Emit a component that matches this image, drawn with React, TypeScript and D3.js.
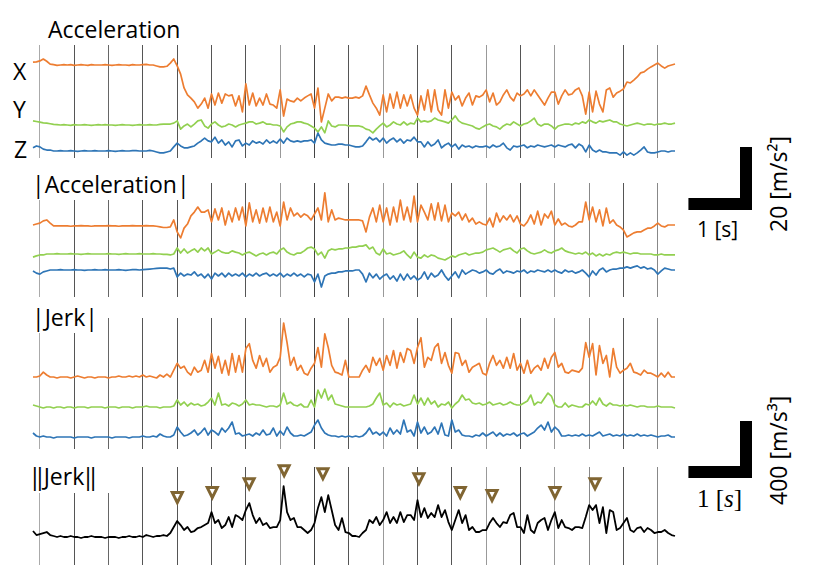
import React, { useRef, useEffect } from 'react';
import * as d3 from 'd3';

// sampling of every trace (s)
const SAMPLE_DT = 0.054;
// vertical guide lines (s)
const GRID_START = 0.1;
const GRID_STEP = 0.54;
const GRID_COUNT = 19;

// Acceleration per axis [m/s^2], relative to each trace's rest level
const accX = [
  0.9, 1.0, 1.3, 1.9, 1.2, 0.3, 0.1, -0.1, 0, 0.1,
  0, 0.1, -0.1, 0, 0.1, 0, -0.1, 0.1, 0, 0,
  0, 0.1, 0, -0.1, 0, 0.1, 0, 0, -0.1, 0.1,
  0, 0, 0.1, 0.2, 0, 0, -0.3, -0.6, -0.6, -0.4,
  0.6, 1.9, -0.3, -2.9, -7.3, -9.5, -10.5, -11.7, -13.7, -12.4,
  -10.5, -13.7, -9.2, -12.7, -8.9, -12.1, -9.2, -9.8, -9.5, -13.0,
  -9.8, -14.9, -6.0, -12.7, -8.9, -13.0, -10.5, -12.7, -9.2, -12.4,
  -12.7, -13.7, -7.9, -16.2, -10.8, -11.4, -11.7, -10.5, -11.4, -10.5,
  -9.8, -9.2, -13.7, -7.3, -18.1, -13.7, -9.2, -11.4, -10.2, -10.2,
  -10.5, -10.2, -10.5, -10.5, -10.2, -10.5, -9.8, -6.7, -9.5, -12.1,
  -13.7, -15.9, -9.5, -14.9, -9.2, -13.7, -8.6, -13.7, -9.5, -13.0,
  -9.5, -13.7, -15.9, -9.8, -14.3, -7.9, -14.9, -7.9, -14.3, -15.9,
  -7.9, -13.7, -8.6, -11.1, -9.8, -13.0, -10.5, -8.9, -12.7, -9.8,
  -10.2, -9.5, -7.9, -11.7, -8.9, -12.7, -11.7, -9.5, -7.9, -10.2,
  -11.4, -8.9, -9.8, -9.2, -7.9, -9.8, -7.9, -9.5, -11.1, -12.7,
  -10.5, -8.6, -8.6, -12.4, -9.8, -7.9, -9.5, -9.2, -7.9, -7.3,
  -9.8, -15.6, -8.6, -14.9, -8.3, -12.4, -14.9, -7.9, -7.3, -10.2,
  -8.9, -8.3, -7.6, -5.4, -5.7, -4.8, -3.8, -2.5, -2.2, -1.3,
  -0.6, 0, 0.6, -0.3, -1.0, -0.3, 0, 0.3,
];
const accY = [
  1.3, 1.1, 0.9, 0.7, 0.6, 0.4, 0.2, 0.1, 0, 0.1,
  0, -0.1, 0.1, 0, 0, 0.1, 0, -0.1, 0, 0.1,
  0, 0.1, 0, 0, -0.1, 0, 0.1, 0, 0, -0.1,
  0, 0.1, 0, 0, 0.1, 0, 0, 0.2, 0.3, 0.3,
  0.3, 0.6, 1.3, -1.3, -0.3, 0.3, -0.6, 0.3, 1.3, 1.6,
  -0.3, -1.0, 0.3, 1.0, 0, -0.6, -0.3, 0.3, 0, -0.6,
  0, 0.3, 0.6, 1.0, 1.0, 0.3, 0.6, 1.0, 0.3, 0.3,
  0, 0, -0.3, -2.2, -0.6, 0.3, 0.6, 1.0, 1.0, 0.6,
  0.3, -0.3, -1.0, -2.2, -0.6, -2.5, 1.3, -0.3, -0.6, 0,
  0, 0, -0.3, -0.3, -0.3, -0.3, -0.6, -1.3, -1.6, -2.5,
  -1.3, -0.3, 0.6, -0.6, 0, 1.0, 0.3, 0, 1.0, 0,
  0.6, 0.3, 2.2, 1.0, 1.3, 1.0, 1.3, 2.2, 1.6, 1.3,
  1.0, 0.6, 1.6, 2.9, 1.3, 0.6, 0.3, 0, -0.3, -1.0,
  -1.3, -0.6, 0, 0.3, -0.3, -0.6, -1.3, -0.3, 0.3, 0,
  1.0, 0.3, -0.3, 0.3, 0.6, 1.3, 2.2, 0.3, -0.3, 0.3,
  0.3, -0.3, -1.3, -0.3, 0, 0.3, 0.3, 0, 0.6, 0.3,
  1.0, 0.6, 1.6, 1.0, 0.6, 1.3, 1.0, 1.3, 1.6, 1.0,
  1.0, 0.3, 0, -0.3, 0, 0.3, 0.6, 0.3, 0, 0.3,
  0.3, 0, 0.3, 0.3, 0.6, 0.3, 0.3, 0.6,
];
const accZ = [
  1.0, 1.6, 1.3, 0.6, 0.3, 0.3, 0, 0, 0.1, 0,
  0, 0.1, 0, -0.1, 0, 0.1, 0, 0, 0.1, 0,
  0, 0, 0.1, 0, -0.1, 0, 0.1, 0, 0, 0.1,
  0.1, 0, 0, 0, 0.2, 0, -0.3, -0.6, -0.6, -0.3,
  0, 1.3, 2.5, 1.6, 1.0, 1.0, 1.3, 1.6, 2.5, 3.2,
  4.1, 3.2, 2.9, 4.4, 2.5, 3.5, 1.9, 2.9, 1.3, 3.2,
  3.5, 1.6, 2.5, 1.9, 3.2, 2.5, 2.9, 2.2, 3.5, 2.5,
  3.2, 2.5, 3.8, 2.5, 4.1, 3.2, 2.9, 3.2, 2.9, 3.2,
  3.2, 3.5, 2.5, 5.7, 3.5, 2.5, 2.2, 1.9, 1.9, 2.2,
  2.2, 1.9, 1.9, 1.6, 1.3, 1.3, 1.6, 2.9, 4.4, 3.5,
  4.1, 2.9, 4.1, 2.5, 3.5, 4.1, 2.9, 3.8, 2.5, 3.5,
  3.2, 4.4, 2.9, 2.9, 1.3, 2.9, 1.6, 2.2, 3.5, 1.0,
  1.9, 2.5, 1.3, 2.2, 0.6, 1.9, 1.3, 1.6, 1.0, 1.6,
  1.3, 1.3, 1.6, 1.0, 1.9, 1.3, 1.6, 2.5, 1.0, 0.3,
  1.6, 1.3, 1.6, 1.9, 1.0, 1.6, 1.3, 1.9, 1.6, 1.3,
  1.6, 1.9, 1.3, 1.9, 1.6, 1.3, 1.9, 2.2, 1.0, 2.2,
  1.6, -0.3, 1.9, 0.3, -0.3, 0.3, -0.3, -0.3, -0.6, -0.6,
  -0.6, -1.3, -0.3, -1.3, -0.6, -1.3, -0.6, 0.3, 1.3, -0.3,
  -0.6, -0.6, -0.3, 0, 0, -0.3, 0, 0,
];

// |Acceleration| per axis [m/s^2]
const absAccX = [
  0, 0.3, 0.6, 1.3, 1.6, 0.6, -0.3, -0.3, -0.3, -0.3,
  -0.3, -0.4, -0.3, -0.3, -0.2, -0.3, -0.3, -0.4, -0.3, -0.3,
  -0.3, -0.3, -0.2, -0.3, -0.3, -0.4, -0.3, -0.3, -0.3, -0.2,
  -0.3, -0.3, -0.3, -0.2, -0.3, -0.3, -0.4, -0.6, -0.8, -0.8,
  -0.6, 1.6, -2.2, -4.1, -1.0, 0.3, 2.9, 4.1, 5.7, 4.1,
  4.1, 4.8, 1.0, 5.1, 1.6, 5.4, 0, 4.4, 1.0, 5.4,
  1.6, 5.7, -0.3, 7.0, 1.0, 4.8, 0.6, 5.4, 1.0, 5.7,
  1.0, 4.1, -0.3, 7.3, 1.6, 5.4, 2.9, 3.8, 2.5, 3.5,
  2.9, 1.6, 3.5, 5.4, 1.6, 10.2, 1.0, 4.8, 1.6, 2.2,
  1.9, 1.6, 1.6, 1.6, 1.6, 1.6, 1.3, -2.2, 2.5, 5.4,
  1.0, 6.3, 1.0, 5.4, 0, 5.7, 1.0, 7.9, 1.6, 5.7,
  1.0, 9.2, 1.0, 6.3, 4.1, 1.6, 6.7, 1.6, 7.0, 1.3,
  6.3, 1.0, 3.8, 2.9, 4.1, 1.6, 3.5, 1.0, 2.2, 0.3,
  1.0, 0.3, 0, 2.2, -0.6, 3.8, 1.0, 2.9, 1.6, 3.2,
  1.0, 2.9, 0.3, -0.3, 1.0, 3.2, 0.3, 4.4, 0, 3.5,
  2.2, 4.4, 0, 1.9, 0, 0.6, -0.3, -0.6, 0, 1.0,
  1.0, 7.3, 1.6, 5.7, 1.0, 4.8, -0.3, 5.4, 0.6, 1.6,
  0, -0.6, -1.6, -3.8, -3.2, -2.5, -2.2, -2.2, -1.6, -1.0,
  -1.0, -0.3, 0.6, -0.3, -0.6, 0, 0, 0,
];
const absAccY = [
  -1.0, -0.6, -0.3, -0.3, 0, 0, 0, 0.1, 0, 0,
  0, 0.1, 0, 0, -0.1, 0, 0.1, 0, 0, 0,
  0, 0, 0.1, 0, 0, -0.1, 0, 0.1, 0, 0,
  0, 0.1, 0, 0, 0, 0.1, 0, 0, -0.1, -0.1,
  -0.3, 0, 1.9, 0.3, 1.6, 0.3, 1.0, 1.6, 0.6, 1.9,
  1.0, 1.9, 0, 0.6, 1.3, 0.6, 0.3, 0.3, 1.0, 0.6,
  0.3, -0.3, 0.3, 0.6, 0, -0.6, 0, 0.3, -0.3, 0.3,
  0.6, 0, 1.3, 1.9, 0.6, 0, -0.3, 0.3, 0.3, 1.0,
  1.9, 2.2, 1.6, -0.3, 0.6, -1.3, 1.0, 1.6, 1.3, 1.6,
  1.6, 1.9, 1.9, 2.2, 2.2, 2.5, 2.5, 2.9, 1.6, 2.2,
  0.3, -0.3, 1.6, 0, 0.3, -0.3, 0, 0.3, 1.0, -0.3,
  -1.3, 0.6, -1.0, -1.3, -0.3, -1.0, -0.3, -0.6, -1.3, -1.6,
  -1.9, -1.3, -0.6, -1.0, -0.3, 0, 0.3, -0.3, 0, 0.3,
  0.3, 0.6, 1.3, 1.6, 1.9, 1.3, 0.6, 1.3, 1.6, 1.9,
  1.0, 0.3, 1.6, 1.9, 1.0, 0.3, 0, 0.3, 0.6, 1.3,
  0.6, 0.3, 1.0, 1.3, 1.9, 1.0, 0.6, 0.3, 0, 0.3,
  0, 0.6, -0.3, 0.3, -0.6, 0, -0.6, 0, -0.3, 0.3,
  0.6, 0.3, 0.6, 0.3, 0, 0.3, 0.3, 0, 0, 0,
  0, -0.3, -0.3, 0, -0.3, -0.3, -0.3, -0.3,
];
const absAccZ = [
  -0.3, -1.0, -1.3, -0.6, -0.3, 0, 0, 0, 0.1, 0,
  0, 0, 0.1, 0, 0, -0.1, 0, 0, 0.1, 0,
  0, 0.1, 0, 0, 0, 0.1, 0, -0.1, 0, 0.1,
  0.1, 0, 0.1, 0.2, 0.3, 0.4, 0.5, 0.6, 0.6, 0.6,
  0.3, 0.6, -2.2, -1.0, -1.9, -1.3, -1.6, -0.6, -1.9, -1.3,
  -2.5, -1.3, -2.9, -1.0, -1.9, -1.0, -2.2, -1.0, -1.9, -1.3,
  -1.9, -1.0, -2.2, -1.3, -1.9, -1.0, -1.9, -1.3, -1.0, -1.9,
  -1.3, -1.9, -1.0, -2.2, -1.3, -1.9, -1.0, -1.9, -1.3, -2.2,
  -1.3, -1.6, -3.8, -1.3, -5.4, -1.9, -1.3, -1.0, -1.0, -0.6,
  -0.6, -0.3, -0.3, -0.3, 0, 0, -1.3, -3.8, -1.0, -2.5,
  -1.3, -2.9, -1.9, -1.3, -2.9, -1.9, -3.5, -1.3, -3.2, -1.3,
  -2.9, -1.9, -3.2, -2.5, -0.6, -2.9, -1.0, -2.2, -1.6, 0,
  -1.9, -3.2, -1.9, -0.6, -2.5, 0, -1.3, -0.6, 0, -0.3,
  -1.0, -0.6, 0, -1.0, -1.3, -0.3, 0.3, -1.0, -0.3, -0.6,
  -1.0, -0.3, -0.6, 0, -1.0, -0.3, -0.6, 0, -0.3, -0.6,
  0, -0.6, 0, -0.6, -1.0, 0, -0.6, -0.3, -1.0, -0.6,
  0, -1.0, -2.2, -0.3, -1.6, 0, 0.6, -0.6, 0, 0.3,
  0.3, 0.6, 0.6, 1.0, 0.6, 1.0, 1.3, 0.6, 1.0, 0.3,
  0.6, 0, -1.3, -0.3, 0.6, 0.3, 0, 0,
];

// |Jerk| per axis [m/s^3]
const jerkX = [
  28, 28, 35, 62, 42, 28, 28, 21, 28, 28,
  28, 21, 28, 35, 28, 21, 28, 28, 21, 28,
  28, 28, 21, 28, 28, 35, 28, 28, 35, 28,
  35, 28, 42, 28, 35, 28, 21, 42, 28, 48,
  28, 76, 124, 90, 104, 62, 42, 97, 62, 76,
  145, 62, 193, 90, 173, 55, 145, 42, 193, 62,
  179, 62, 228, 262, 145, 90, 179, 103, 159, 62,
  97, 110, 166, 407, 269, 110, 166, 76, 110, 55,
  42, 90, 124, 235, 97, 331, 235, 110, 62, 55,
  42, 145, 28, 28, 28, 28, 76, 110, 62, 166,
  110, 159, 76, 179, 110, 214, 90, 200, 131, 228,
  214, 124, 235, 304, 97, 166, 145, 235, 262, 124,
  200, 110, 55, 200, 193, 110, 145, 62, 97, 110,
  124, 55, 42, 124, 179, 110, 145, 90, 166, 90,
  193, 76, 124, 55, 145, 55, 90, 110, 76, 159,
  90, 166, 200, 97, 124, 62, 55, 76, 69, 62,
  90, 269, 166, 262, 42, 248, 124, 179, 28, 228,
  97, 55, 76, 90, 124, 62, 55, 42, 76, 55,
  55, 42, 28, 55, 28, 62, 28, 28,
];
const jerkY = [
  35, 28, 21, 14, 21, 21, 14, 21, 21, 14,
  21, 21, 14, 21, 21, 21, 14, 21, 21, 21,
  21, 14, 21, 21, 21, 14, 21, 21, 21, 14,
  21, 21, 21, 28, 21, 21, 21, 14, 21, 21,
  21, 28, 70, 35, 56, 28, 49, 35, 42, 28,
  35, 56, 84, 35, 119, 35, 42, 28, 49, 42,
  28, 42, 70, 35, 42, 35, 35, 28, 21, 28,
  28, 21, 35, 119, 42, 56, 35, 28, 42, 21,
  21, 70, 21, 140, 84, 147, 70, 105, 42, 35,
  28, 21, 21, 21, 21, 21, 21, 21, 28, 42,
  84, 119, 35, 49, 21, 49, 35, 42, 28, 35,
  42, 105, 42, 84, 35, 84, 42, 63, 21, 42,
  35, 56, 14, 42, 63, 105, 70, 77, 49, 42,
  49, 35, 42, 56, 35, 42, 49, 35, 42, 56,
  42, 35, 35, 49, 63, 105, 35, 56, 49, 84,
  119, 98, 35, 21, 21, 49, 21, 35, 28, 21,
  21, 42, 35, 63, 35, 84, 42, 28, 49, 35,
  35, 28, 35, 28, 35, 28, 21, 28, 28, 21,
  21, 21, 28, 21, 21, 21, 21, 14,
];
const jerkZ = [
  42, 21, 14, 21, 14, 14, 7, 14, 14, 14,
  14, 14, 7, 14, 14, 14, 14, 7, 14, 14,
  14, 14, 14, 7, 14, 14, 14, 14, 7, 14,
  14, 14, 21, 14, 14, 21, 14, 35, 21, 14,
  14, 28, 84, 49, 21, 28, 42, 63, 28, 49,
  77, 28, 63, 49, 28, 77, 49, 77, 119, 35,
  42, 21, 28, 35, 21, 42, 28, 63, 28, 35,
  77, 21, 56, 28, 84, 42, 21, 21, 28, 21,
  35, 49, 98, 133, 77, 42, 28, 21, 21, 14,
  21, 14, 21, 14, 21, 14, 21, 42, 77, 35,
  49, 28, 49, 21, 77, 35, 63, 35, 133, 49,
  63, 21, 119, 42, 84, 35, 49, 84, 35, 112,
  28, 21, 133, 49, 63, 28, 21, 21, 14, 28,
  21, 42, 21, 35, 49, 21, 42, 21, 35, 28,
  42, 21, 35, 42, 21, 35, 49, 77, 98, 63,
  119, 49, 84, 63, 21, 21, 28, 21, 28, 21,
  35, 21, 28, 21, 35, 49, 21, 28, 35, 21,
  28, 21, 35, 21, 28, 21, 35, 21, 28, 21,
  28, 21, 14, 21, 21, 28, 14, 14,
];

// ||Jerk|| [m/s^3]
const jerkNorm = [
  63, 35, 42, 49, 56, 35, 28, 21, 28, 21,
  21, 28, 21, 21, 14, 21, 21, 28, 21, 21,
  21, 14, 21, 21, 21, 14, 21, 21, 28, 21,
  21, 28, 21, 35, 28, 21, 28, 28, 35, 28,
  49, 91, 133, 105, 70, 91, 56, 63, 84, 91,
  105, 119, 196, 119, 140, 84, 105, 161, 91, 175,
  161, 140, 210, 259, 175, 119, 154, 105, 119, 84,
  91, 91, 140, 378, 196, 140, 154, 91, 91, 70,
  49, 70, 119, 224, 301, 196, 315, 210, 105, 70,
  154, 56, 49, 28, 28, 21, 49, 70, 140, 119,
  161, 105, 140, 196, 119, 161, 119, 196, 126, 175,
  175, 140, 280, 161, 224, 154, 189, 161, 245, 161,
  210, 126, 70, 140, 210, 119, 175, 70, 91, 56,
  56, 70, 70, 119, 154, 119, 91, 126, 119, 175,
  189, 91, 91, 49, 175, 70, 49, 119, 140, 154,
  70, 140, 196, 84, 140, 91, 84, 70, 91, 91,
  84, 161, 245, 210, 245, 119, 231, 49, 210, 196,
  70, 84, 119, 154, 70, 56, 84, 91, 56, 84,
  70, 49, 56, 56, 70, 49, 35, 28,
];

// detected peaks on ||Jerk||: time [s], marker level [m/s^3]
const markerTimes = [2.27, 2.82, 3.40, 3.95, 4.56, 6.07, 6.72, 7.22, 8.21, 8.84];
const markerLevels = [301, 336, 399, 490, 469, 434, 336, 315, 336, 399];

const ORANGE = '#ED7D31';
const GREEN = '#92D050';
const BLUE = '#2E75B6';
const MARKER = '#806532';
const FONT = "'Open Sans', 'Noto Sans', sans-serif";

const gridShades = [
  '#aaa', '#555', '#666', '#555', '#555', '#555', '#555', '#999', '#444', '#555',
  '#999', '#555', '#555', '#999', '#555', '#999', '#888', '#555', '#888',
];

const App: React.FC = () => {
  const svgRef = useRef<SVGSVGElement>(null);

  useEffect(() => {
    if (!svgRef.current) return;
    const width = 840;
    const height = 570;

    d3.select(svgRef.current).selectAll('*').remove();
    const svg = d3.select(svgRef.current)
      .attr('width', width)
      .attr('height', height)
      .attr('viewBox', `0 0 ${width} ${height}`);

    svg.append('rect').attr('width', width).attr('height', height).attr('fill', '#fff');

    const n = accX.length;
    const xScale = d3.scaleLinear()
      .domain([0, (n - 1) * SAMPLE_DT])
      .range([33, 675]);

    // vertical scales (pixels relative to a trace's rest level)
    const accScale = d3.scaleLinear().domain([0, 20]).range([0, -63]);
    const jerkScale = d3.scaleLinear().domain([0, 400]).range([0, -57]);

    const gridTimes = d3.range(GRID_COUNT).map(k => GRID_START + k * GRID_STEP);

    const panels = [
      {
        top: 45, bottom: 158, lowTop: 45, lowCount: 0, scale: accScale,
        series: [
          { data: accX, base: 65, color: ORANGE },
          { data: accY, base: 125, color: GREEN },
          { data: accZ, base: 151, color: BLUE },
        ],
      },
      {
        top: 183, bottom: 297, lowTop: 200, lowCount: 5, scale: accScale,
        series: [
          { data: absAccX, base: 225, color: ORANGE },
          { data: absAccY, base: 254, color: GREEN },
          { data: absAccZ, base: 270, color: BLUE },
        ],
      },
      {
        top: 318, bottom: 449, lowTop: 333, lowCount: 2, scale: jerkScale,
        series: [
          { data: jerkX, base: 381, color: ORANGE },
          { data: jerkY, base: 410, color: GREEN },
          { data: jerkZ, base: 439, color: BLUE },
        ],
      },
      {
        top: 467, bottom: 565, lowTop: 493, lowCount: 3, scale: jerkScale,
        series: [
          { data: jerkNorm, base: 540, color: '#000' },
        ],
      },
    ];

    // grid lines
    panels.forEach(p => {
      svg.append('g')
        .selectAll('line')
        .data(gridTimes)
        .enter()
        .append('line')
        .attr('x1', d => Math.round(xScale(d)) + 0.5)
        .attr('x2', d => Math.round(xScale(d)) + 0.5)
        .attr('y1', (_, i) => (i < p.lowCount ? p.lowTop : p.top))
        .attr('y2', p.bottom)
        .attr('stroke', (_, i) => gridShades[i % gridShades.length])
        .attr('stroke-width', 1);
    });

    // traces
    panels.forEach(p => {
      p.series.forEach(s => {
        const line = d3.line<number>()
          .x((_, i) => xScale(i * SAMPLE_DT))
          .y(v => s.base + p.scale(v));
        svg.append('path')
          .datum(s.data)
          .attr('d', line)
          .attr('fill', 'none')
          .attr('stroke', s.color)
          .attr('stroke-width', s.color === '#000' ? 1.8 : 1.7)
          .attr('stroke-linejoin', 'round');
      });
    });

    // peak markers (downward triangles)
    const jerkBase = 540;
    svg.append('g')
      .selectAll('path')
      .data(markerTimes)
      .enter()
      .append('path')
      .attr('d', (t, i) => {
        const cx = xScale(t);
        const cy = jerkBase + jerkScale(markerLevels[i]);
        return `M${cx - 5},${cy - 4.5}L${cx + 5},${cy - 4.5}L${cx},${cy + 5.5}Z`;
      })
      .attr('fill', '#fff')
      .attr('stroke', MARKER)
      .attr('stroke-width', 3)
      .attr('stroke-linejoin', 'miter');

    // panel titles
    const title = (x: number, y: number, s: string) =>
      svg.append('text')
        .attr('x', x)
        .attr('y', y)
        .style('font-family', FONT)
        .style('font-size', '23px')
        .attr('fill', '#000')
        .text(s);

    title(48, 38, 'Acceleration');
    title(13, 80, 'X');
    title(13, 118, 'Y');
    title(14, 158, 'Z');
    title(32, 193, '|Acceleration|');
    title(32, 326, '|Jerk|');
    title(31, 485, '‖Jerk‖');

    // scale bars
    const barRight = 752;
    const thick = 12;
    const secPx = xScale(1) - xScale(0);
    const drawBar = (bottom: number, heightPx: number) => {
      svg.append('rect')
        .attr('x', barRight - secPx)
        .attr('y', bottom - thick)
        .attr('width', secPx)
        .attr('height', thick)
        .attr('fill', '#000');
      svg.append('rect')
        .attr('x', barRight - thick)
        .attr('y', bottom - heightPx)
        .attr('width', thick)
        .attr('height', heightPx)
        .attr('fill', '#000');
    };
    drawBar(210, -accScale(20));
    drawBar(478, -jerkScale(400));

    svg.append('text')
      .attr('x', 697)
      .attr('y', 237)
      .style('font-family', FONT)
      .style('font-size', '21px')
      .text('1 [s]');

    svg.append('text')
      .attr('transform', 'translate(787,232) rotate(-90)')
      .style('font-family', FONT)
      .style('font-size', '23px')
      .text('20 [m/s²]');

    const sec2 = svg.append('text')
      .attr('x', 697)
      .attr('y', 507)
      .style('font-family', "'Liberation Serif', 'DejaVu Serif', serif")
      .style('font-size', '25px');
    sec2.append('tspan').text('1 [');
    sec2.append('tspan').style('font-style', 'italic').text('s');
    sec2.append('tspan').text(']');

    svg.append('text')
      .attr('transform', 'translate(787,505) rotate(-90)')
      .style('font-family', FONT)
      .style('font-size', '23px')
      .text('400 [m/s³]');
  }, []);

  return (
    <svg
      ref={svgRef}
      style={{ position: 'absolute', left: 0, top: 0, display: 'block' }}
      aria-label="Acceleration and jerk traces"
    />
  );
};

export default App;
